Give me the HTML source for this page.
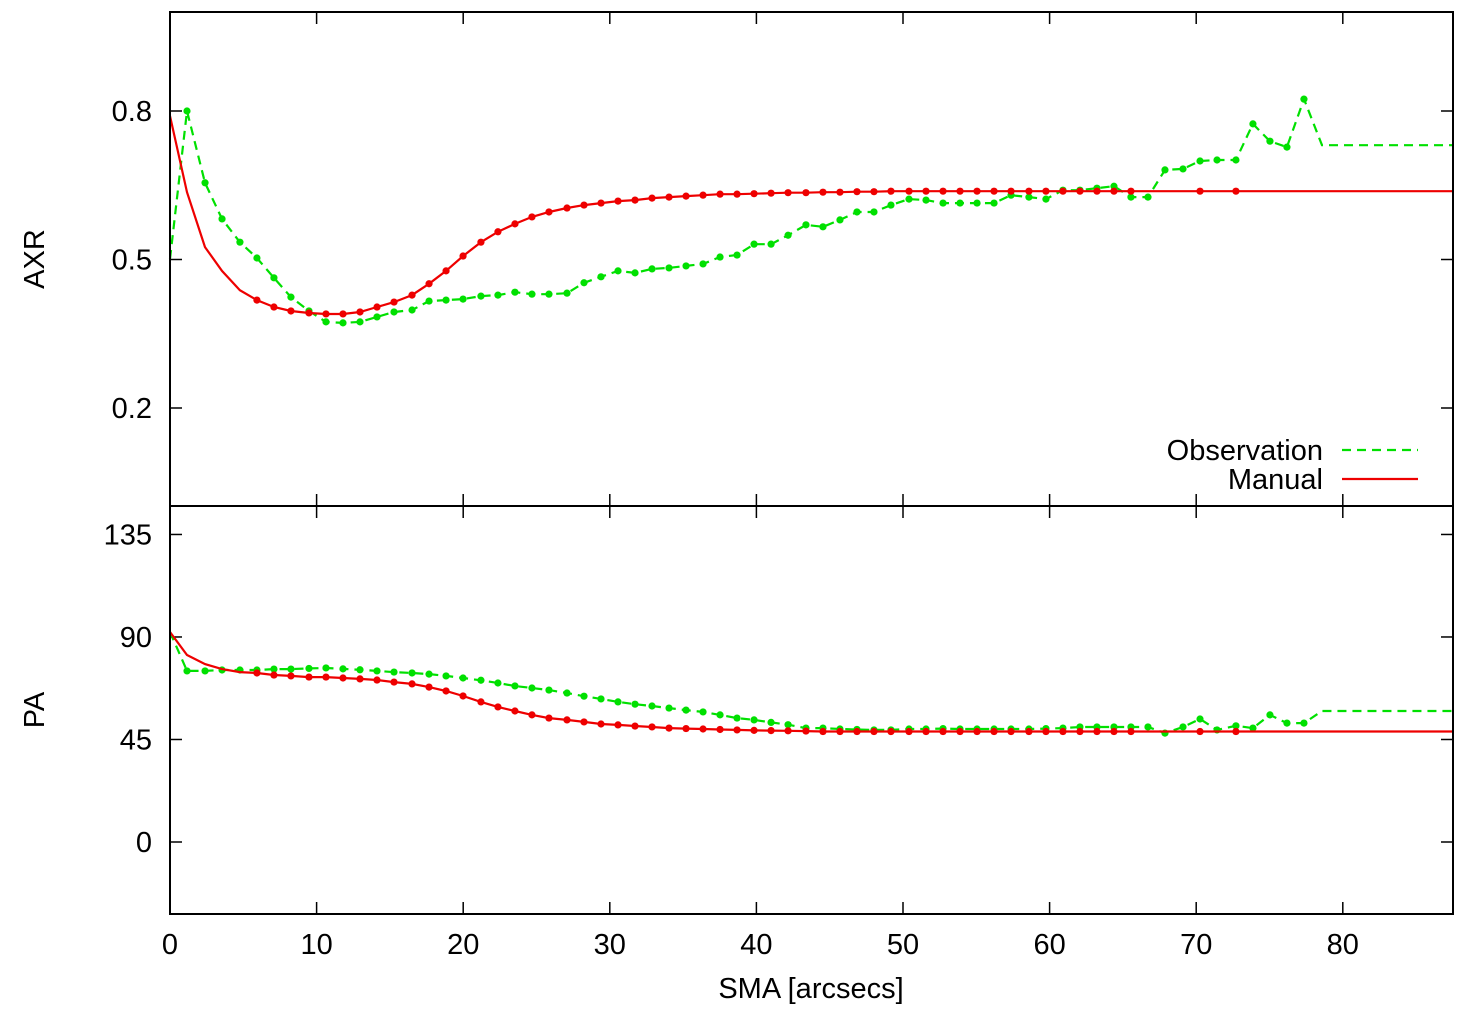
<!DOCTYPE html>
<html><head><meta charset="utf-8"><style>
body{margin:0;background:#fff}
svg{display:block;font-family:"Liberation Sans",sans-serif}
</style></head><body>
<svg id="chart" width="1475" height="1015">
<g id="g"></g>
</svg>
<script>
const smaValues=[0,1.16,2.39,3.55,4.77,5.93,7.09,8.25,9.48,10.64,11.80,12.96,14.12,15.28,16.51,17.67,18.83,19.99,21.21,22.37,23.53,24.69,25.85,27.08,28.24,29.40,30.56,31.72,32.88,34.04,35.20,36.36,37.52,38.68,39.84,41.00,42.16,43.38,44.54,45.70,46.86,48.02,49.18,50.41,51.57,52.73,53.89,55.05,56.21,57.37,58.59,59.75,60.91,62.07,63.23,64.39,65.55,66.71,67.87,69.10,70.26,71.42,72.71,73.87,75.03,76.19,77.35,78.58,87.5];
const axrManual=[.790,.636,.525,.477,.438,.418,.404,.396,.392,.390,.390,.394,.404,.414,.428,.451,.477,.507,.535,.556,.572,.586,.596,.604,.610,.614,.618,.620,.624,.626,.628,.630,.632,.632,.633,.634,.635,.635,.636,.636,.637,.637,.638,.638,.638,.638,.638,.638,.638,.638,.638,.638,.638,.638,.638,.638,.638,.638,.638,.638,.638,.638,.638,.638,.638,.638,.638,.638,.638];
const axrObs=[.501,.800,.655,.582,.535,.503,.463,.424,.396,.374,.372,.374,.384,.394,.398,.416,.418,.420,.426,.428,.434,.430,.430,.432,.453,.465,.477,.473,.481,.483,.487,.491,.505,.509,.531,.531,.549,.570,.566,.580,.596,.596,.610,.622,.620,.614,.614,.614,.614,.630,.626,.622,.640,.640,.644,.648,.626,.626,.681,.683,.699,.701,.701,.774,.739,.727,.824,.731,.731];
const paManual=[92.2,82.1,78.1,75.9,74.6,74.2,73.3,72.9,72.4,72.4,72.0,71.6,71.1,70.2,69.4,68.0,66.3,64.1,61.5,59.3,57.5,55.8,54.4,53.6,52.7,51.8,51.4,50.9,50.5,50.0,49.8,49.6,49.4,49.2,49.0,48.9,48.8,48.7,48.5,48.5,48.5,48.5,48.5,48.5,48.5,48.5,48.5,48.5,48.5,48.5,48.5,48.5,48.5,48.5,48.5,48.5,48.5,48.5,48.5,48.5,48.5,48.5,48.5,48.5,48.5,48.5,48.5,48.5,48.5];
const paObs=[92.2,75.1,75.1,75.5,75.5,75.5,75.9,75.9,76.2,76.4,76.0,75.6,75.1,74.6,74.2,73.7,72.9,72.0,71.0,69.8,68.5,67.6,66.7,65.4,64.0,62.8,61.5,60.5,59.7,58.8,57.9,57.1,55.8,54.4,53.6,52.5,51.5,50.0,50.0,49.6,49.4,49.2,49.2,49.6,49.6,49.8,49.6,49.6,49.6,49.6,49.6,49.8,50.0,50.5,50.5,50.5,50.5,50.5,47.8,50.5,54.0,49.2,51.0,50.0,55.8,52.2,52.2,57.5,57.5];
const xTicks=[0,10,20,30,40,50,60,70,80];
const axrTicks=[0.2,0.5,0.8];
const paTicks=[0,45,90,135];

const L=170,R=1453,FS=29;
const X=v=>L+v*14.66;
const Y1=v=>111+(0.8-v)*495;
const Y2=v=>842-v*2.278;
const NS="http://www.w3.org/2000/svg";
const g=document.getElementById('g');
function mk(t,a,txt){const e=document.createElementNS(NS,t);for(const k in a)e.setAttribute(k,a[k]);if(txt!==undefined)e.textContent=txt;g.appendChild(e);return e;}

for(const t of xTicks){const x=X(t);
 for(const [y0,d] of [[12,1],[506,-1],[506,1],[914,-1]]){
  const e=mk('line',{x1:x,x2:x,y1:y0,y2:y0+d*12,stroke:'#000','stroke-width':1.5});
  
  }
 const l=mk('text',{x:x,y:954,'font-size':FS,'text-anchor':'middle'},String(t));
 
 }
for(const t of axrTicks){const y=Y1(t);
 mk('line',{x1:L,x2:L+12,y1:y,y2:y,stroke:'#000','stroke-width':1.5});
 mk('line',{x1:R,x2:R-12,y1:y,y2:y,stroke:'#000','stroke-width':1.5});
 const l=mk('text',{x:152,y:y+10,'font-size':FS,'text-anchor':'end'},t.toFixed(1));
 
 }
for(const t of paTicks){const y=Y2(t);
 mk('line',{x1:L,x2:L+12,y1:y,y2:y,stroke:'#000','stroke-width':1.5});
 mk('line',{x1:R,x2:R-12,y1:y,y2:y,stroke:'#000','stroke-width':1.5});
 const l=mk('text',{x:152,y:y+10,'font-size':FS,'text-anchor':'end'},String(t));
 
 }

function series(vals,Y,color,dash,name,dotFn){
 const pts=vals.map((v,i)=>X(smaValues[i]).toFixed(1)+','+Y(v).toFixed(1)).join(' ');
 const p=mk('polyline',{points:pts,fill:'none',stroke:color,'stroke-width':2.2,'stroke-dasharray':dash||'none'});
 
 
 vals.forEach((v,i)=>{if(!dotFn(i))return;
  const c=mk('circle',{cx:X(smaValues[i]),cy:Y(v),r:3.6,fill:color});
  
  });
}
const obsDot=i=>i>0&&i<67;
const manDot=i=>(i>=5&&i<=56)||i==60||i==62;
series(axrObs,Y1,'#00e000','9,6','axr-observation',obsDot);
series(axrManual,Y1,'#ee0000',null,'axr-manual',manDot);
series(paObs,Y2,'#00e000','9,6','pa-observation',obsDot);
series(paManual,Y2,'#ee0000',null,'pa-manual',manDot);

for(const [y0,y1] of [[12,506],[506,914]]){
 const f=mk('rect',{x:L,y:y0,width:R-L,height:y1-y0,fill:'none',stroke:'#000','stroke-width':2});
 
 }

let t=mk('text',{x:1323,y:460,'font-size':FS,'text-anchor':'end'},'Observation');

let ln=mk('line',{x1:1342,x2:1418,y1:450,y2:450,stroke:'#00e000','stroke-width':2.2,'stroke-dasharray':'9,6'});

t=mk('text',{x:1323,y:489,'font-size':FS,'text-anchor':'end'},'Manual');

ln=mk('line',{x1:1342,x2:1418,y1:479,y2:479,stroke:'#ee0000','stroke-width':2.2});


t=mk('text',{x:0,y:0,'font-size':FS,'text-anchor':'middle',transform:'translate(44,259) rotate(-90)'},'AXR');

t=mk('text',{x:0,y:0,'font-size':FS,'text-anchor':'middle',transform:'translate(44,710) rotate(-90)'},'PA');

t=mk('text',{x:811,y:998,'font-size':FS,'text-anchor':'middle'},'SMA [arcsecs]');

</script>
</body></html>
